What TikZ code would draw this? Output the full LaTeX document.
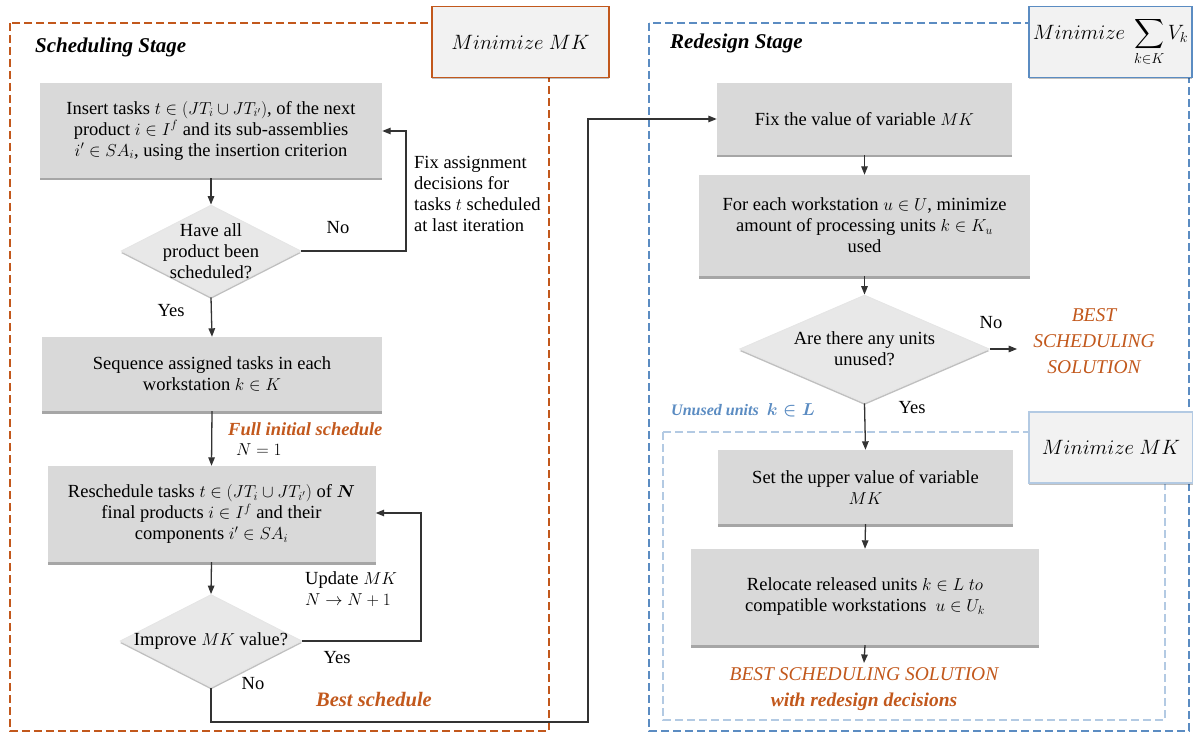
\documentclass[tikz,border=0pt]{standalone}
\usepackage{amsmath}
\usepackage{fontspec}
\setmainfont{Liberation Serif}
\usetikzlibrary{shapes.geometric,arrows.meta,shadows}

\definecolor{orng}{HTML}{C2581C}
\definecolor{stageblue}{HTML}{5B8CC2}
\definecolor{paleblue}{HTML}{B3CAE3}
\definecolor{boxgray}{HTML}{D9D9D9}
\definecolor{diagray}{HTML}{E8E8E8}
\definecolor{objfill}{HTML}{F2F2F2}
\definecolor{linegray}{HTML}{333333}

\newcommand\bodyfont{\fontsize{18.5}{21}\selectfont}
\newcommand\headfont{\fontsize{21}{24}\selectfont\bfseries\itshape}
\newcommand\labfont{\fontsize{18.5}{22}\selectfont\bfseries\itshape}
\newcommand\objfont{\fontsize{21.5}{25}\selectfont}

\begin{document}
\begin{tikzpicture}[x=1pt,y=-1pt,
  proc/.style={fill=boxgray, align=center, font=\bodyfont, inner sep=0pt,
    drop shadow={shadow xshift=0pt, shadow yshift=-2.5pt, opacity=0.35, fill=black}},
  decide/.style={diamond, fill=diagray, draw=white!80!gray, line width=0.8pt, inner sep=0pt,
    drop shadow={shadow xshift=0pt, shadow yshift=-2pt, opacity=0.25, fill=black}},
  dtext/.style={align=center, font=\bodyfont, inner sep=0pt},
  objbox/.style={fill=objfill, line width=1.3pt, inner sep=0pt, font=\objfont,
    drop shadow={shadow xshift=0pt, shadow yshift=-2pt, opacity=0.25, fill=black}},
  plain/.style={font=\bodyfont, inner sep=0pt},
  stagetitle/.style={font=\headfont, inner sep=0pt, anchor=west},
  orangelabel/.style={font=\labfont, text=orng, inner sep=0pt, anchor=west},
  result/.style={font=\fontsize{19.5}{26}\selectfont\itshape, text=orng, align=center, inner sep=0pt},
  frame/.style={line width=1.8pt, dash pattern=on 8pt off 4pt},
  arr/.style={draw=linegray, line width=1.3pt, -{Triangle[length=8.5pt,width=6.5pt]}}
]
\useasboundingbox (0,0) rectangle (1193,735);

% stage frames
\draw[frame, orng] (10,23) rectangle (549,731);
\draw[frame, stageblue] (649,23) rectangle (1189,731);
\draw[frame, paleblue, line width=1.5pt] (663,432) rectangle (1165,720);

% objective boxes
\node[objbox, draw=orng, minimum width=177pt, minimum height=71pt] (objL) at (520.5,42) {$Minimize\ MK$};
\node[objbox, draw=stageblue, minimum width=163pt, minimum height=71pt] (objR) at (1110.5,42)
  {$Minimize\ \displaystyle\sum_{k\in K} V_k$};
\node[objbox, draw=paleblue, minimum width=164pt, minimum height=71pt] (objI) at (1111,447.5) {$Minimize\ MK$};

% stage titles
\node[stagetitle] (tS) at (35,47) {Scheduling Stage};
\node[stagetitle] (tR) at (670,43) {Redesign Stage};

% scheduling stage
\node[proc, minimum width=342pt, minimum height=95pt] (b1) at (211,130.5)
  {Insert tasks $t\in(JT_i\cup JT_{i'})$, of the next\\ product $i\in I^f$ and its sub-assemblies\\ $i'\in SA_i$, using the insertion criterion};
\node[decide, minimum width=180pt, minimum height=92pt] (d1) at (211,251) {};
\node[dtext] (d1t) at (d1) {Have all\\ product been\\ scheduled?};
\node[proc, minimum width=340pt, minimum height=74pt] (b2) at (212,374)
  {Sequence assigned tasks in each\\ workstation $k\in K$};
\node[proc, minimum width=328pt, minimum height=96pt] (b3) at (211.5,514)
  {Reschedule tasks $t\in(JT_i\cup JT_{i'})$ of $\boldsymbol{N}$\\ final products $i\in I^f$ and their\\ components $i'\in SA_i$};
\node[decide, minimum width=182pt, minimum height=93pt] (d2) at (211,641) {};
\node[dtext] (d2t) at (d2) {Improve $MK$ value?};

\node[plain, anchor=west, align=left] (fix) at (414,194)
  {Fix assignment\\ decisions for\\ tasks $t$ scheduled\\ at last iteration};
\node[plain] (no1) at (338,228) {No};
\node[plain] (yes1) at (171,311) {Yes};
\node[orangelabel] (full) at (228,429) {Full initial schedule};
\node[plain, anchor=west] (n1) at (236,450) {$N=1$};
\node[plain, anchor=west, align=left] (upd) at (305,589) {Update $MK$\\ $N\rightarrow N+1$};
\node[plain] (yes2) at (337,658) {Yes};
\node[plain] (no2) at (253,684) {No};
\node[orangelabel, font=\fontsize{20.5}{24}\selectfont\bfseries\itshape] (bestS) at (316,700) {Best schedule};

% redesign stage
\node[proc, minimum width=295pt, minimum height=72pt] (b4) at (864.5,119) {Fix the value of variable $MK$};
\node[proc, minimum width=331pt, minimum height=101pt] (b5) at (864.5,225.5)
  {For each workstation $u\in U$, minimize\\ amount of processing units $k\in K_u$\\ used};
\node[decide, minimum width=250pt, minimum height=108pt] (d3) at (864.5,349) {};
\node[dtext] (d3t) at (d3) {Are there any units\\ unused?};
\node[result, inner xsep=16pt] (bestR) at (1094,341) {BEST\\ SCHEDULING\\ SOLUTION};
\node[plain] (no3) at (991,323) {No};
\node[plain] (yes3) at (912,408) {Yes};
\node[font=\fontsize{16}{18}\selectfont\bfseries\itshape, text=stageblue, inner sep=0pt, anchor=west] (unused) at (671,410)
  {Unused units \ $\boldsymbol{k\in L}$};
\node[proc, minimum width=295pt, minimum height=74pt] (b6) at (865.5,487)
  {Set the upper value of variable\\ $MK$};
\node[proc, minimum width=348pt, minimum height=96pt] (b7) at (865,597)
  {Relocate released units $k\in L\ to$\\ compatible workstations \ $u\in U_k$};
\node[result, inner ysep=4pt, anchor=north] (bestF) at (864,663)
  {BEST SCHEDULING SOLUTION\\ \bfseries with redesign decisions};

% connectors
\coordinate (fb1) at (406,131);
\coordinate (fb2) at (421,513);
\coordinate (lowL) at (211,722);
\coordinate (cross) at (588,722);

\draw[arr] (b1.south) -- (d1.north);
\draw[arr] (d1.east) -| (fb1) -- (b1.east |- fb1);
\draw[arr] (d1.south) -- (b2.north);
\draw[arr] (b2.south) -- (b3.north);
\draw[arr] (b3.south) -- (d2.north);
\draw[arr] (d2.east) -| (fb2) -- (b3.east |- fb2);
\draw[arr] (d2.south) -- (lowL) -- (cross) |- (b4.west);
\draw[arr] (b4.south) -- (b5.north);
\draw[arr] (b5.south) -- (d3.north);
\draw[arr] (d3.east) -- (bestR.west |- d3.east);
\draw[arr] (d3.south) -- (b6.north);
\draw[arr] (b6.south) -- (b7.north);
\draw[arr] (b7.south) -- (bestF.north);
\end{tikzpicture}
\end{document}
